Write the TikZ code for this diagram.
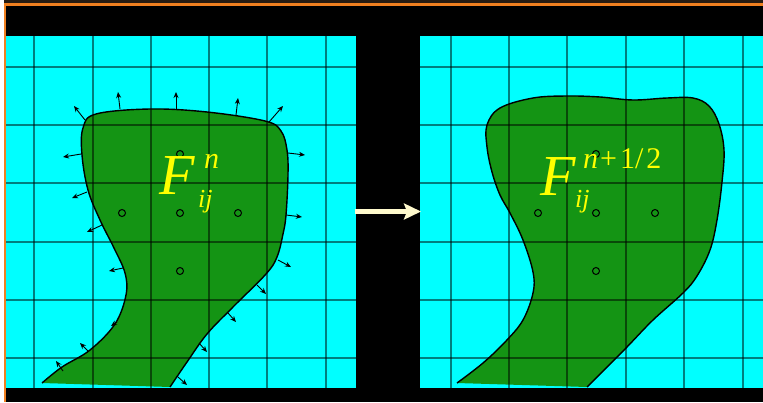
\documentclass[tikz,border=0pt]{standalone}
\usepackage{fontspec}
\setmainfont{Liberation Serif}
\usetikzlibrary{arrows.meta}
\definecolor{cyanbg}{RGB}{0,255,255}
\definecolor{blobgreen}{RGB}{20,148,20}
\definecolor{topdark}{RGB}{40,28,18}
\definecolor{orangeline}{RGB}{240,128,32}
\definecolor{cream}{RGB}{255,250,205}
\definecolor{fyellow}{RGB}{255,255,0}
\tikzset{
  panel/.style={fill=cyanbg, draw=none},
  blobfill/.style={fill=blobgreen, draw=none},
  blobline/.style={draw=black, line width=1.4pt, line join=round},
  gridline/.style={draw=black, draw opacity=0.5, line width=1.4pt},
  normalarrow/.style={draw=black, line width=0.9pt, -{Stealth[length=6pt,width=5pt]}},
  cellpt/.style={circle, draw=black, line width=1pt, minimum size=7pt, inner sep=0pt},
  bigF/.style={text=fyellow, inner sep=0pt, font=\fontsize{58}{58}\selectfont\itshape},
  supF/.style={text=fyellow, inner sep=0pt, font=\fontsize{30}{30}\selectfont},
  subF/.style={text=fyellow, inner sep=0pt, font=\fontsize{26}{26}\selectfont\itshape},
  bigarrow/.style={draw=cream, line width=5pt, -{Stealth[length=17pt,width=16pt,inset=3pt]}}
}
\begin{document}
\begin{tikzpicture}[x=1pt,y=-1pt]
\useasboundingbox (0,0) rectangle (763,402);
% background and frame
\fill[black] (0,0) rectangle (763,402);
\fill[white] (0,0) rectangle (4,402);
\fill[topdark] (4,0) rectangle (763,3);
\fill[orangeline] (4,3) rectangle (763,6);
\fill[orangeline] (4,3) rectangle (6,402);
% panels
\fill[panel] (6,36) rectangle (356,388);
\fill[panel] (420,36) rectangle (763,388);
% blobs
\def\leftblob{plot[smooth, tension=0.6] coordinates {
 (42,383) (62,367) (90,350) (115,324) (126,295) (125,273) (114,248) (100,220) (88,190) (82,155) (83,128) (96,114) (150,109) (207,112) (265,121) (281,131) (287,150) (288,175) (286,215) (283,234) (277,257) (266,274) (233,307) (207,334) (187,362) (170,387)} -- cycle}
\def\rightblob{plot[smooth, tension=0.6] coordinates {
 (457,383) (483,363) (506,341) (523,320) (533,293) (533,272) (523,240) (510,213) (500,195) (492,172) (487,147) (487,125) (500,108) (533,98) (567,96) (600,97) (633,100) (667,98) (693,98) (709,106) (719,124) (724,150) (722,182) (717,220) (710,250) (697,276) (683,293) (653,320) (627,347) (607,367) (587,387)} -- cycle}
\fill[blobfill] \leftblob;
\fill[blobfill] \rightblob;
% grids
\foreach \gx in {34,93,151,209,267,326} \draw[gridline] (\gx,36) -- (\gx,388);
\foreach \gy in {67,125,183,242,300,358} \draw[gridline] (6,\gy) -- (356,\gy);
\foreach \gx in {451,509,567,626,684,743} \draw[gridline] (\gx,36) -- (\gx,388);
\foreach \gy in {67,125,183,242,300,358} \draw[gridline] (420,\gy) -- (763,\gy);
% outlines
\draw[blobline] plot[smooth, tension=0.6] coordinates {
 (42,383) (62,367) (90,350) (115,324) (126,295) (125,273) (114,248) (100,220) (88,190) (82,155) (83,128) (96,114) (150,109) (207,112) (265,121) (281,131) (287,150) (288,175) (286,215) (283,234) (277,257) (266,274) (233,307) (207,334) (187,362) (170,387)};
\draw[blobline] plot[smooth, tension=0.6] coordinates {
 (457,383) (483,363) (506,341) (523,320) (533,293) (533,272) (523,240) (510,213) (500,195) (492,172) (487,147) (487,125) (500,108) (533,98) (567,96) (600,97) (633,100) (667,98) (693,98) (709,106) (719,124) (724,150) (722,182) (717,220) (710,250) (697,276) (683,293) (653,320) (627,347) (607,367) (587,387)};
% outward normals (left)
\foreach \ax/\ay/\bx/\by [count=\k] in {
 85/120/74/106, 120/109/118/92, 176/109/176/92, 236/115/238/98, 269/122/283/106,
 81/154/63/157, 288/153/305/155, 87/192/72/198, 286/215/302/217, 102/225/87/232,
 123/268/109/271, 117/322/111/326, 88/351/80/343, 63/371/56/361,
 278/260/291/267, 257/285/266/294, 228/313/236/322, 199/343/207/352, 178/377/187/385} {
  \coordinate (n\k a) at (\ax,\ay);
  \coordinate (n\k b) at (\bx,\by);
  \draw[normalarrow] (n\k a) -- (n\k b);
}
% cell centres
\node[cellpt] (l1) at (122,213) {};
\node[cellpt] (l2) at (180,213) {};
\node[cellpt] (l3) at (238,213) {};
\node[cellpt] (l4) at (180,154) {};
\node[cellpt] (l5) at (180,271) {};
\node[cellpt] (r1) at (538,213) {};
\node[cellpt] (r2) at (596,213) {};
\node[cellpt] (r3) at (655,213) {};
\node[cellpt] (r4) at (596,154) {};
\node[cellpt] (r5) at (596,271) {};
% labels
\node[bigF, anchor=base west] (lF) at (159,194) {\makebox[29pt][l]{F}};
\node[supF, anchor=base west] (lsup) at (204,168) {\itshape n};
\node[subF, anchor=base west] (lsub) at (198,207) {ij};
\node[bigF, anchor=base west] (rF) at (540,195) {\makebox[29pt][l]{F}};
\node[supF, anchor=base west] (rsup) at (583,168) {{\itshape n}\kern2pt+\kern3pt1/\kern3pt2};
\node[subF, anchor=base west] (rsub) at (575,207) {ij};
% transition arrow
\coordinate (arrL) at (355,211.5);
\coordinate (arrR) at (421,211.5);
\draw[bigarrow] (arrL) -- (arrR);
\end{tikzpicture}
\end{document}
